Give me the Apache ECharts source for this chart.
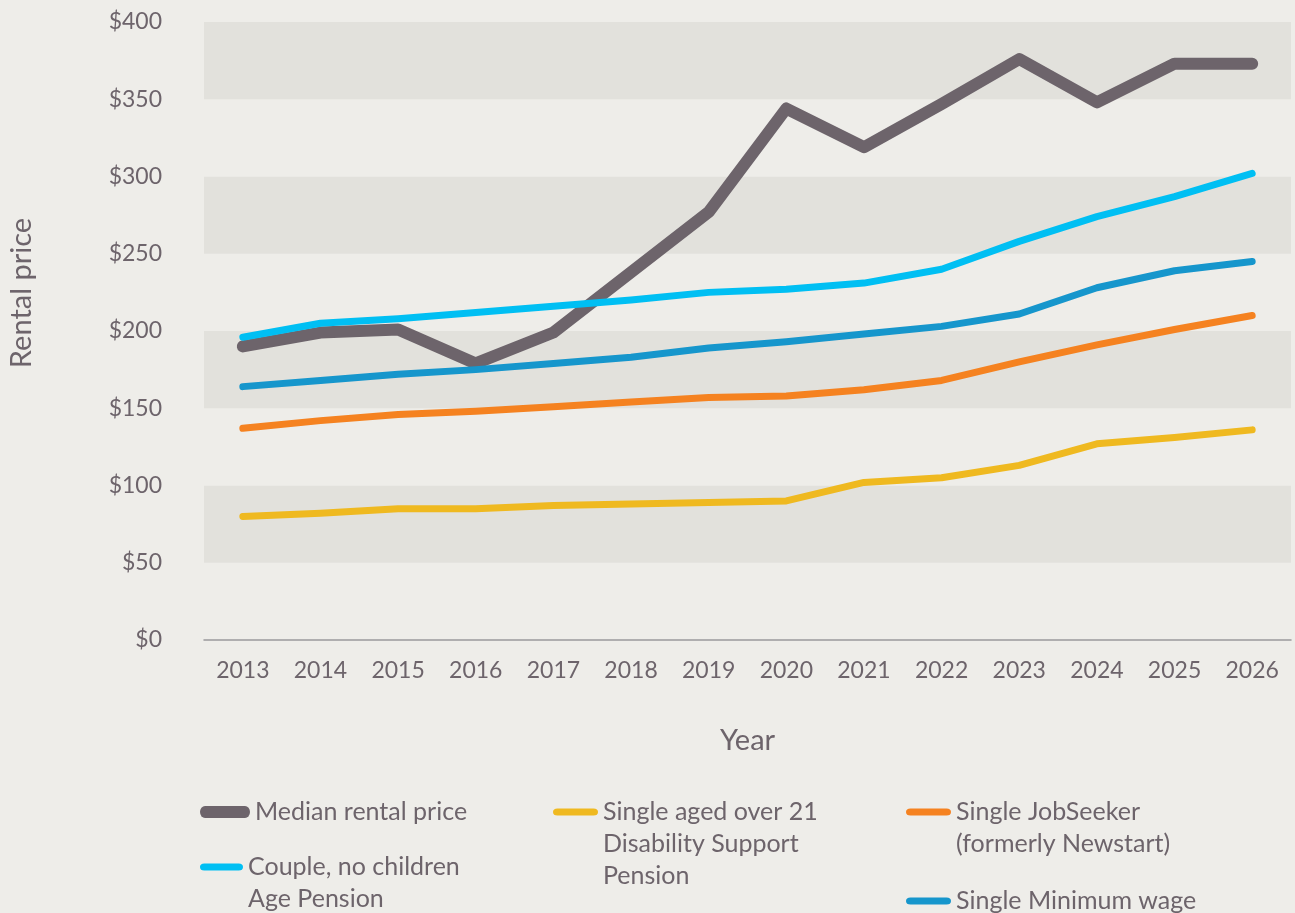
<!DOCTYPE html>
<html>
<head>
<meta charset="utf-8">
<title>Rental price</title>
<script src="https://cdn.jsdelivr.net/npm/echarts@6/dist/echarts.min.js"></script>
<style>
  html, body { margin: 0; padding: 0; background: #EEEDE9; }
  #chart { width: 1295px; height: 913px; }
</style>
</head>
<body>
<div id="chart"></div>
<script>
  var years = ['2013', '2014', '2015', '2016', '2017', '2018', '2019', '2020', '2021', '2022', '2023', '2024', '2025', '2026']
  var yTicks = [0, 50, 100, 150, 200, 250, 300, 350, 400]

  var medianRent = [190, 199, 201, 179, 199, 238, 277, 344, 319, 347, 376, 348, 373, 373]
  var agePension = [196, 205, 208, 212, 216, 220, 225, 227, 231, 240, 258, 274, 287, 302]
  var minWage = [164, 168, 172, 175, 179, 183, 189, 193, 198, 203, 211, 228, 239, 245]
  var jobSeeker = [137, 142, 146, 148, 151, 154, 157, 158, 162, 168, 180, 191, 201, 210]
  var disability = [80, 82, 85, 85, 87, 88, 89, 90, 102, 105, 113, 127, 131, 136]

  var textColor = '#6D646B'
  var font = 'Lato'
  var lineH = 32

  function makeLine(name, data, color, width) {
    return {
      name: name,
      type: 'line',
      data: data,
      symbol: 'none',
      itemStyle: { color: color },
      lineStyle: { color: color, width: width, cap: 'round', join: 'round' }
    }
  }

  // rounded bar icon; for multi-line names a tiny dot below stretches the
  // icon box so the bar sits level with the first text line
  function barIcon(h, lines) {
    var total = h + (lines - 1) * lineH
    var ph = 10 * total / h
    var p = 'path://M5,0 L45,0 A5,5 0 0 1 45,10 L5,10 A5,5 0 0 1 5,0 Z'
    if (lines > 1) p += ' M0,' + (ph - 0.01) + ' L0.01,' + (ph - 0.01) + ' L0.01,' + ph + ' Z'
    return { icon: p, height: total }
  }

  // one legend per entry so each can sit where the original does
  function makeLegend(name, left, top, w, h) {
    var lines = name.split('\n').length
    var ic = barIcon(h, lines)
    return {
      data: [name],
      left: left,
      top: top,
      itemWidth: w,
      itemHeight: ic.height,
      itemGap: 0,
      padding: 0,
      icon: ic.icon,
      symbolKeepAspect: false,
      selectedMode: false,
      textStyle: {
        color: textColor,
        fontFamily: font,
        fontSize: 25,
        lineHeight: lineH
      }
    }
  }

  var myChart = echarts.init(document.getElementById('chart'))
  var option = {
    backgroundColor: '#EEEDE9',
    animation: false,
    textStyle: { fontFamily: font },
    grid: { left: 204, right: 4, top: 22, bottom: 273, containLabel: false },
    graphic: [{
      type: 'text',
      x: 22,
      y: 293,
      rotation: Math.PI / 2,
      style: { text: 'Rental price', fill: textColor, fontSize: 29, fontFamily: font, align: 'center', verticalAlign: 'middle' }
    }],
    legend: [
      makeLegend('Median rental price', 200, 796, 50, 12),
      makeLegend('Couple, no children\nAge Pension', 200, 851, 43, 7),
      makeLegend('Single aged over 21\nDisability Support\nPension', 553, 796, 45, 7),
      makeLegend('Single JobSeeker\n(formerly Newstart)', 906, 796, 45, 7),
      makeLegend('Single Minimum wage', 906, 885, 45, 7)
    ],
    xAxis: {
      type: 'category',
      data: years,
      boundaryGap: true,
      name: 'Year',
      nameLocation: 'middle',
      nameGap: 86,
      nameTextStyle: { color: textColor, fontSize: 29, fontFamily: font },
      axisLine: { lineStyle: { color: '#9A999C', width: 1.5 } },
      axisTick: { show: false },
      axisLabel: { color: textColor, fontSize: 23, margin: 19, fontFamily: font }
    },
    yAxis: {
      type: 'value',
      min: yTicks[0],
      max: yTicks[yTicks.length - 1],
      interval: 50,
      axisLine: { show: false },
      axisTick: { show: false },
      splitLine: { show: false },
      splitArea: { show: true, areaStyle: { color: ['#EEEDE9', '#E2E1DC'] } },
      axisLabel: {
        color: textColor,
        fontSize: 23,
        margin: 42,
        fontFamily: font,
        formatter: function (v) { return '$' + v }
      }
    },
    series: [
      makeLine('Median rental price', medianRent, '#6D646B', 12),
      makeLine('Couple, no children\nAge Pension', agePension, '#00BFF3', 7),
      makeLine('Single aged over 21\nDisability Support\nPension', disability, '#EFB920', 7),
      makeLine('Single JobSeeker\n(formerly Newstart)', jobSeeker, '#F58220', 7),
      makeLine('Single Minimum wage', minWage, '#1696CC', 7)
    ]
  }
  myChart.setOption(option)
</script>
</body>
</html>
